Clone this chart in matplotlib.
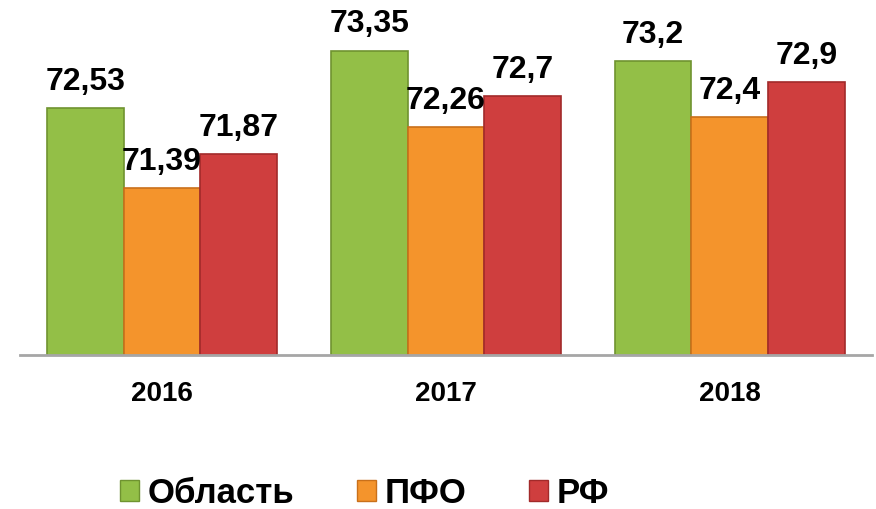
import matplotlib
matplotlib.use('Agg')
import matplotlib.pyplot as plt
import numpy as np
from matplotlib.patches import Patch

# 데이터
years = ['2016', '2017', '2018']
series_names = ['Область', 'ПФО', 'РФ']
oblast = [72.53, 73.35, 73.2]
pfo = [71.39, 72.26, 72.4]
rf = [71.87, 72.7, 72.9]
value_labels = [['72,53', '73,35', '73,2'],
                ['71,39', '72,26', '72,4'],
                ['71,87', '72,7', '72,9']]

colors = ['#93bf47', '#f4942c', '#cf3e3e']
edges = ['#6f9330', '#c9701a', '#a22a2a']

plt.rcParams['font.family'] = ['Liberation Sans', 'DejaVu Sans']

fig = plt.figure(figsize=(8.76, 5.09), dpi=100)
ax = fig.add_axes([0.023, 0.3026, 0.972, 0.6874])

x = np.arange(len(years))
width = 0.27
offsets = [-width, 0, width]

for i, vals in enumerate([oblast, pfo, rf]):
    bars = ax.bar(x + offsets[i], vals, width=width, bottom=0,
                  color=colors[i], edgecolor=edges[i], linewidth=1.2, zorder=2)
    for bar, lab in zip(bars, value_labels[i]):
        ax.annotate(lab, (bar.get_x() + bar.get_width() / 2, bar.get_height()),
                    xytext=(0, 8), textcoords='offset points',
                    ha='center', va='bottom', fontsize=23, fontweight='bold',
                    color='black')

ax.set_xlim(-0.5, 2.5)
ax.set_ylim(69, 74)
ax.set_xticks(x)
ax.set_xticklabels(years, fontsize=20, fontweight='bold')
ax.tick_params(axis='x', length=0, pad=19)
ax.set_yticks([])
for s in ['top', 'right', 'left']:
    ax.spines[s].set_visible(False)
ax.spines['bottom'].set_color('#a6a6a6')
ax.spines['bottom'].set_linewidth(2)

handles = [Patch(facecolor=c, edgecolor=e) for c, e in zip(colors, edges)]
fig.legend(handles, series_names, loc='center', bbox_to_anchor=(0.416, 0.031),
           ncol=3, frameon=False, prop={'size': 25, 'weight': 'bold'},
           handlelength=0.55, handleheight=0.55, handletextpad=0.25,
           columnspacing=1.8)

fig.savefig('out.png', dpi=100)
plt.close(fig)
